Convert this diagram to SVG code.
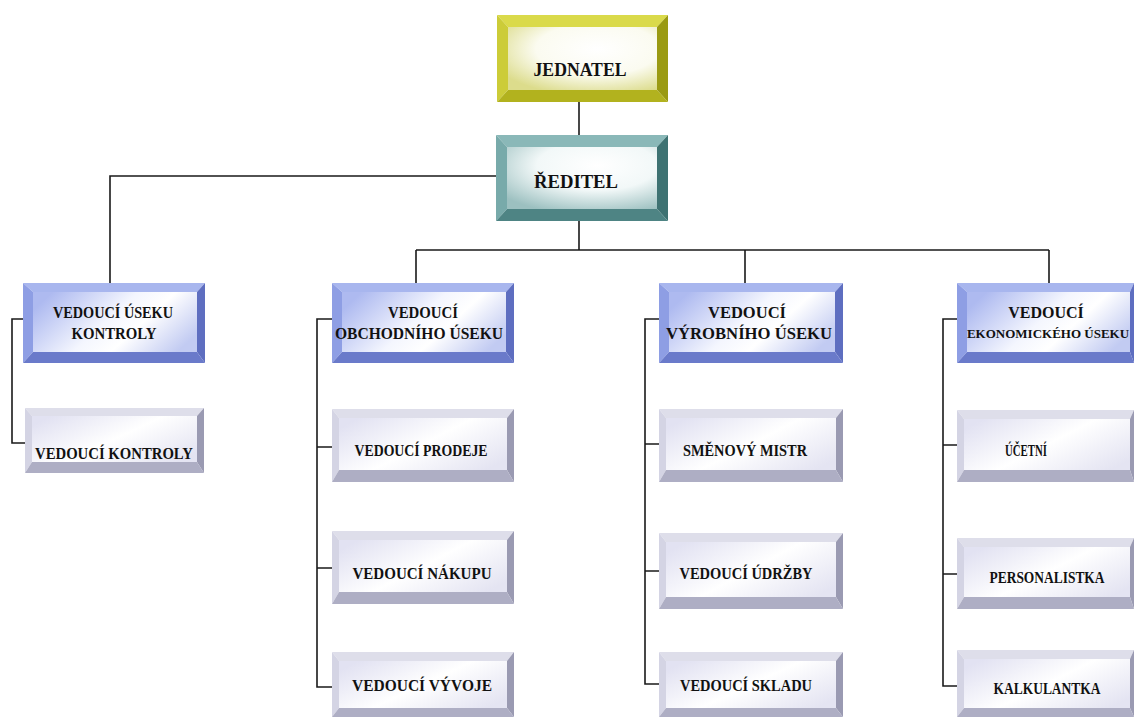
<svg xmlns="http://www.w3.org/2000/svg" width="1134" height="717" viewBox="0 0 1134 717">
<defs>
<radialGradient id="gY" cx="0.6" cy="0.35" r="0.75">
<stop offset="0" stop-color="#ffffff"/><stop offset="0.55" stop-color="#fbfbf0"/><stop offset="1" stop-color="#dcdc8c"/>
</radialGradient>
<radialGradient id="gT" cx="0.6" cy="0.3" r="0.8">
<stop offset="0" stop-color="#ffffff"/><stop offset="0.5" stop-color="#f2f8f8"/><stop offset="1" stop-color="#9cc0c0"/>
</radialGradient>
<linearGradient id="gB" x1="0" y1="0.3" x2="1" y2="0.7">
<stop offset="0" stop-color="#aebaf0"/><stop offset="0.45" stop-color="#f4f6fe"/><stop offset="0.65" stop-color="#ffffff"/><stop offset="1" stop-color="#c2cbf2"/>
</linearGradient>
<linearGradient id="gC" x1="0" y1="0.2" x2="1" y2="0.8">
<stop offset="0" stop-color="#e2e2f2"/><stop offset="0.5" stop-color="#ffffff"/><stop offset="1" stop-color="#e4e4f2"/>
</linearGradient>
</defs>
<style>
.conn{fill:none;stroke:#1a1a1a;stroke-width:1.6}
.yel .t{fill:#dada4a}.yel .l{fill:#cccc38}.yel .r{fill:#9a9a12}.yel .b{fill:#b2b21e}.yel .f{fill:url(#gY)}
.tea .t{fill:#8ab8b8}.tea .l{fill:#78aaaa}.tea .r{fill:#3e7272}.tea .b{fill:#4e8484}.tea .f{fill:url(#gT)}
.blu .t{fill:#a8b6ee}.blu .l{fill:#8e9ee4}.blu .r{fill:#5e6ec0}.blu .b{fill:#6a7aca}.blu .f{fill:url(#gB)}
.chi .t{fill:#dedeea}.chi .l{fill:#d4d4e4}.chi .r{fill:#9a9ab2}.chi .b{fill:#aeaec4}.chi .f{fill:url(#gC)}
text{font-family:"Liberation Serif","Times New Roman",serif;font-weight:bold;fill:#111;text-anchor:middle}
.big{font-size:19px}.mid{font-size:16px}.sm{font-size:17px}.nar{font-size:13px}
</style>
<rect width="1134" height="717" fill="#ffffff"/>
<g id="connectors">
<path class="conn" d="M579 102V135"/>
<path class="conn" d="M496 176H110V283"/>
<path class="conn" d="M579 221V250M416 250H1049M416 250V283M745 250V283M1049 250V283"/>
<path class="conn" d="M23 319H12V443H25"/>
<path class="conn" d="M332 319H317V687H332M317 447H332M317 568H332"/>
<path class="conn" d="M659 319H645V684H659M645 444H659M645 571H659"/>
<path class="conn" d="M957 319H943V686H957M943 445H957M943 574H957"/>
</g>
<g id="jednatel" class="yel">
<polygon class="t" points="497,15 668,15 657,27 508,27"/>
<polygon class="l" points="497,15 508,27 508,90 497,102"/>
<polygon class="r" points="668,15 668,102 657,90 657,27"/>
<polygon class="b" points="497,102 508,90 657,90 668,102"/>
<rect class="f" x="508" y="27" width="149" height="63"/>
<text class="big" x="580" y="76" textLength="93" lengthAdjust="spacingAndGlyphs">JEDNATEL</text>
</g>
<g id="reditel" class="tea">
<polygon class="t" points="496,135 668,135 657,147 507,147"/>
<polygon class="l" points="496,135 507,147 507,209 496,221"/>
<polygon class="r" points="668,135 668,221 657,209 657,147"/>
<polygon class="b" points="496,221 507,209 657,209 668,221"/>
<rect class="f" x="507" y="147" width="150" height="62"/>
<text class="big" x="576" y="188" textLength="84" lengthAdjust="spacingAndGlyphs">ŘEDITEL</text>
</g>
<g id="usek-kontroly" class="blu">
<polygon class="t" points="23,283 205,283 197,292 33,292"/>
<polygon class="l" points="23,283 33,292 33,352 23,363"/>
<polygon class="r" points="205,283 205,363 197,352 197,292"/>
<polygon class="b" points="23,363 33,352 197,352 205,363"/>
<rect class="f" x="33" y="292" width="164" height="60"/>
<text class="mid" x="113" y="318" textLength="120" lengthAdjust="spacingAndGlyphs">VEDOUCÍ ÚSEKU</text>
<text class="mid" x="114" y="339" textLength="85" lengthAdjust="spacingAndGlyphs">KONTROLY</text>
</g>
<g id="usek-obchodni" class="blu">
<polygon class="t" points="332,283 514,283 506,292 342,292"/>
<polygon class="l" points="332,283 342,292 342,352 332,363"/>
<polygon class="r" points="514,283 514,363 506,352 506,292"/>
<polygon class="b" points="332,363 342,352 506,352 514,363"/>
<rect class="f" x="342" y="292" width="164" height="60"/>
<text class="mid" x="423" y="318" textLength="70" lengthAdjust="spacingAndGlyphs">VEDOUCÍ</text>
<text class="mid" x="419" y="339" textLength="168" lengthAdjust="spacingAndGlyphs">OBCHODNÍHO ÚSEKU</text>
</g>
<g id="usek-vyrobni" class="blu">
<polygon class="t" points="659,283 843,283 835,292 669,292"/>
<polygon class="l" points="659,283 669,292 669,352 659,363"/>
<polygon class="r" points="843,283 843,363 835,352 835,292"/>
<polygon class="b" points="659,363 669,352 835,352 843,363"/>
<rect class="f" x="669" y="292" width="166" height="60"/>
<text class="mid" x="747" y="318" textLength="78" lengthAdjust="spacingAndGlyphs">VEDOUCÍ</text>
<text class="mid" x="749" y="339" textLength="166" lengthAdjust="spacingAndGlyphs">VÝROBNÍHO ÚSEKU</text>
</g>
<g id="usek-ekonomicky" class="blu">
<polygon class="t" points="957,283 1134,283 1130,292 967,292"/>
<polygon class="l" points="957,283 967,292 967,352 957,363"/>
<polygon class="r" points="1134,283 1134,363 1130,352 1130,292"/>
<polygon class="b" points="957,363 967,352 1130,352 1134,363"/>
<rect class="f" x="967" y="292" width="163" height="60"/>
<text class="mid" x="1046" y="318">VEDOUCÍ</text>
<text class="nar" x="1048" y="338">EKONOMICKÉHO ÚSEKU</text>
</g>
<g id="vedouci-kontroly" class="chi">
<polygon class="t" points="25,408 204,408 197,416 32,416"/>
<polygon class="l" points="25,408 32,416 32,462 25,473"/>
<polygon class="r" points="204,408 204,473 197,462 197,416"/>
<polygon class="b" points="25,473 32,462 197,462 204,473"/>
<rect class="f" x="32" y="416" width="165" height="46"/>
<text class="sm" x="114" y="459" textLength="158" lengthAdjust="spacingAndGlyphs">VEDOUCÍ KONTROLY</text>
</g>
<g id="vedouci-prodeje" class="chi">
<polygon class="t" points="332,409 514,409 507,418 339,418"/>
<polygon class="l" points="332,409 339,418 339,470 332,482"/>
<polygon class="r" points="514,409 514,482 507,470 507,418"/>
<polygon class="b" points="332,482 339,470 507,470 514,482"/>
<rect class="f" x="339" y="418" width="168" height="52"/>
<text class="sm" x="421" y="456" textLength="133" lengthAdjust="spacingAndGlyphs">VEDOUCÍ PRODEJE</text>
</g>
<g id="vedouci-nakupu" class="chi">
<polygon class="t" points="332,531 514,531 507,540 339,540"/>
<polygon class="l" points="332,531 339,540 339,592 332,604"/>
<polygon class="r" points="514,531 514,604 507,592 507,540"/>
<polygon class="b" points="332,604 339,592 507,592 514,604"/>
<rect class="f" x="339" y="540" width="168" height="52"/>
<text class="sm" x="422" y="579" textLength="139" lengthAdjust="spacingAndGlyphs">VEDOUCÍ NÁKUPU</text>
</g>
<g id="vedouci-vyvoje" class="chi">
<polygon class="t" points="332,652 514,652 507,661 339,661"/>
<polygon class="l" points="332,652 339,661 339,708 332,717"/>
<polygon class="r" points="514,652 514,717 507,708 507,661"/>
<polygon class="b" points="332,717 339,708 507,708 514,717"/>
<rect class="f" x="339" y="661" width="168" height="47"/>
<text class="sm" x="422" y="691" textLength="140" lengthAdjust="spacingAndGlyphs">VEDOUCÍ VÝVOJE</text>
</g>
<g id="smenovy-mistr" class="chi">
<polygon class="t" points="659,409 843,409 836,418 666,418"/>
<polygon class="l" points="659,409 666,418 666,470 659,482"/>
<polygon class="r" points="843,409 843,482 836,470 836,418"/>
<polygon class="b" points="659,482 666,470 836,470 843,482"/>
<rect class="f" x="666" y="418" width="170" height="52"/>
<text class="sm" x="745" y="456" textLength="124" lengthAdjust="spacingAndGlyphs">SMĚNOVÝ MISTR</text>
</g>
<g id="vedouci-udrzby" class="chi">
<polygon class="t" points="659,533 843,533 836,542 666,542"/>
<polygon class="l" points="659,533 666,542 666,597 659,609"/>
<polygon class="r" points="843,533 843,609 836,597 836,542"/>
<polygon class="b" points="659,609 666,597 836,597 843,609"/>
<rect class="f" x="666" y="542" width="170" height="55"/>
<text class="sm" x="746" y="579" textLength="133" lengthAdjust="spacingAndGlyphs">VEDOUCÍ ÚDRŽBY</text>
</g>
<g id="vedouci-skladu" class="chi">
<polygon class="t" points="659,652 843,652 836,661 666,661"/>
<polygon class="l" points="659,652 666,661 666,708 659,717"/>
<polygon class="r" points="843,652 843,717 836,708 836,661"/>
<polygon class="b" points="659,717 666,708 836,708 843,717"/>
<rect class="f" x="666" y="661" width="170" height="47"/>
<text class="sm" x="746" y="691" textLength="132" lengthAdjust="spacingAndGlyphs">VEDOUCÍ SKLADU</text>
</g>
<g id="ucetni" class="chi">
<polygon class="t" points="957,410 1134,410 1130,419 964,419"/>
<polygon class="l" points="957,410 964,419 964,470 957,482"/>
<polygon class="r" points="1134,410 1134,482 1130,470 1130,419"/>
<polygon class="b" points="957,482 964,470 1130,470 1134,482"/>
<rect class="f" x="964" y="419" width="166" height="51"/>
<text class="sm" x="1026" y="456" textLength="42" lengthAdjust="spacingAndGlyphs">ÚČETNÍ</text>
</g>
<g id="personalistka" class="chi">
<polygon class="t" points="957,538 1134,538 1130,547 964,547"/>
<polygon class="l" points="957,538 964,547 964,597 957,609"/>
<polygon class="r" points="1134,538 1134,609 1130,597 1130,547"/>
<polygon class="b" points="957,609 964,597 1130,597 1134,609"/>
<rect class="f" x="964" y="547" width="166" height="50"/>
<text class="sm" x="1047" y="583" textLength="115" lengthAdjust="spacingAndGlyphs">PERSONALISTKA</text>
</g>
<g id="kalkulantka" class="chi">
<polygon class="t" points="957,650 1134,650 1130,659 964,659"/>
<polygon class="l" points="957,650 964,659 964,708 957,717"/>
<polygon class="r" points="1134,650 1134,717 1130,708 1130,659"/>
<polygon class="b" points="957,717 964,708 1130,708 1134,717"/>
<rect class="f" x="964" y="659" width="166" height="49"/>
<text class="sm" x="1047" y="694" textLength="107" lengthAdjust="spacingAndGlyphs">KALKULANTKA</text>
</g>
</svg>
